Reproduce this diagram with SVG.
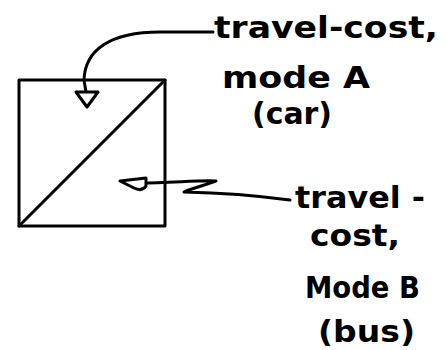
<svg xmlns="http://www.w3.org/2000/svg" width="446" height="350" viewBox="0 0 446 350">
<style>
.ln{fill:none;stroke:#000;stroke-width:3;stroke-linecap:round;stroke-linejoin:round}
.t{font-family:"Comic Sans MS","DejaVu Sans","Liberation Sans",sans-serif;font-size:30px;font-weight:bold;fill:#000}
</style>
<rect width="446" height="350" fill="#fff"/>
<g id="cell">
<rect class="ln" x="19" y="80" width="146" height="146"/>
<line class="ln" x1="19" y1="226" x2="165" y2="80"/>
</g>
<g id="connectors">
<path class="ln" d="M213,32 L160,32 C110,32 85,50 84,80 L86,92"/>
<path d="M76,92 L98,92 L87,107 Z" fill="#fff" stroke="#000" stroke-width="3" stroke-linejoin="round"/>
<path class="ln" d="M290,200 C260,196 230,193 184,192 C195,187 210,184 216,181 C200,180 170,183 140,183"/>
<path d="M146,178 L120,181 L134,188 Q142,192 146,186 Z" fill="#fff" stroke="#000" stroke-width="3" stroke-linejoin="round"/>
</g>
<g id="labelA">
<text class="t" x="214" y="38" textLength="224" lengthAdjust="spacingAndGlyphs">travel-cost,</text>
<text class="t" x="222" y="88" textLength="148" lengthAdjust="spacingAndGlyphs">mode A</text>
<text class="t" x="252" y="124" textLength="80" lengthAdjust="spacingAndGlyphs">(car)</text>
</g>
<g id="labelB">
<text class="t" x="295" y="208" textLength="130" lengthAdjust="spacingAndGlyphs">travel -</text>
<text class="t" x="310" y="246" textLength="90" lengthAdjust="spacingAndGlyphs">cost,</text>
<text class="t" x="305" y="298" textLength="115" lengthAdjust="spacingAndGlyphs">Mode B</text>
<text class="t" x="318" y="342" textLength="97" lengthAdjust="spacingAndGlyphs">(bus)</text>
</g>
</svg>
